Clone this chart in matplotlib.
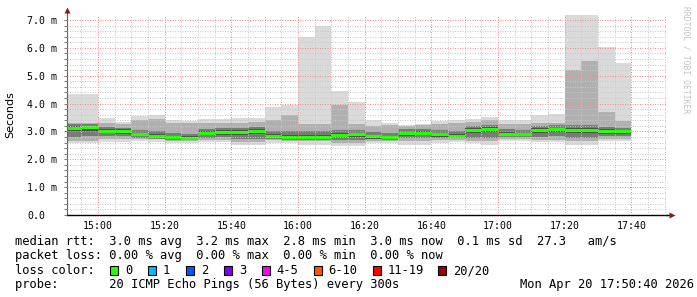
import numpy as np
import matplotlib
matplotlib.use("Agg")
import matplotlib.pyplot as plt
from matplotlib.patches import Rectangle

# ---------------- data (times in minutes after 14:00, rtt in ms) ----------------
t_start = 50 + 40 / 60          # 14:50:40
t_end = 230 + 40 / 60           # 17:50:40
bin_edges = [t_start] + list(range(55, 221, 5))

rtt_median = [3.12, 3.15, 3.03, 3.02, 2.90, 2.84, 2.79, 2.76, 2.95, 2.98, 2.99, 3.02,
              2.84, 2.81, 2.81, 2.81, 2.88, 2.89, 2.82, 2.79, 2.93, 2.95, 2.89, 2.85,
              3.06, 3.10, 2.92, 2.90, 3.05, 3.08, 3.06, 3.05, 3.02, 3.00]
rtt_max = [4.34, 4.34, 3.49, 3.35, 3.55, 3.59, 3.41, 3.37, 3.46, 3.46, 3.48, 3.48,
           3.89, 3.95, 6.40, 6.78, 4.45, 4.06, 3.41, 3.29, 3.22, 3.27, 3.38, 3.41,
           3.46, 3.51, 3.41, 3.41, 3.59, 3.63, 7.25, 7.25, 6.03, 5.46]
rtt_min = [2.57, 2.57, 2.62, 2.63, 2.66, 2.63, 2.57, 2.57, 2.61, 2.61, 2.50, 2.50,
           2.59, 2.57, 2.53, 2.53, 2.48, 2.48, 2.57, 2.58, 2.53, 2.53, 2.60, 2.62,
           2.57, 2.53, 2.64, 2.64, 2.61, 2.61, 2.53, 2.53, 2.64, 2.64]
smoke_hi2 = [3.30, 3.30, 3.32, 3.25, 3.40, 3.45, 3.30, 3.30, 3.30, 3.30, 3.30, 3.35,
             3.41, 3.59, 3.25, 3.25, 3.95, 3.25, 3.20, 3.22, 3.20, 3.22, 3.25, 3.30,
             3.35, 3.40, 3.25, 3.25, 3.30, 3.30, 5.20, 5.54, 3.71, 3.39]
smoke_lo2 = [2.67, 2.67, 2.72, 2.73, 2.74, 2.72, 2.67, 2.66, 2.70, 2.70, 2.62, 2.62,
             2.68, 2.66, 2.64, 2.64, 2.60, 2.60, 2.67, 2.67, 2.64, 2.64, 2.70, 2.71,
             2.67, 2.64, 2.73, 2.73, 2.70, 2.70, 2.64, 2.64, 2.73, 2.73]
smoke_hi3 = [3.26, 3.28, 3.16, 3.14, 3.05, 3.00, 2.95, 2.92, 3.08, 3.12, 3.12, 3.15,
             3.02, 3.00, 3.00, 3.00, 3.05, 3.05, 2.98, 2.95, 3.08, 3.10, 3.04, 3.02,
             3.20, 3.24, 3.08, 3.06, 3.20, 3.22, 3.22, 3.22, 3.16, 3.14]
smoke_lo3 = [2.80, 2.82, 2.82, 2.83, 2.77, 2.72, 2.70, 2.68, 2.78, 2.80, 2.72, 2.74,
             2.72, 2.70, 2.68, 2.68, 2.70, 2.70, 2.72, 2.70, 2.75, 2.76, 2.76, 2.76,
             2.78, 2.76, 2.80, 2.79, 2.80, 2.82, 2.78, 2.78, 2.83, 2.82]
smoke_hi4 = [3.18, 3.21, 3.09, 3.08, 2.96, 2.90, 2.85, 2.82, 3.01, 3.04, 3.05, 3.08,
             2.90, 2.87, 2.87, 2.87, 2.94, 2.95, 2.88, 2.85, 2.99, 3.01, 2.95, 2.91,
             3.12, 3.16, 2.98, 2.96, 3.11, 3.14, 3.12, 3.11, 3.08, 3.06]
smoke_lo4 = [3.00, 3.02, 2.93, 2.92, 2.82, 2.77, 2.73, 2.71, 2.86, 2.88, 2.88, 2.91,
             2.76, 2.74, 2.73, 2.73, 2.79, 2.80, 2.74, 2.72, 2.84, 2.86, 2.81, 2.78,
             2.95, 2.98, 2.84, 2.82, 2.95, 2.97, 2.95, 2.94, 2.92, 2.90]

x_ticks = [60, 80, 100, 120, 140, 160, 180, 200, 220]
x_tick_labels = ["15:00", "15:20", "15:40", "16:00", "16:20", "16:40", "17:00", "17:20", "17:40"]
y_ticks = [0, 1, 2, 3, 4, 5, 6, 7]
y_tick_labels = ["0.0", "1.0 m", "2.0 m", "3.0 m", "4.0 m", "5.0 m", "6.0 m", "7.0 m"]

legend_rtt = "median rtt:  3.0 ms avg  3.2 ms max  2.8 ms min  3.0 ms now  0.1 ms sd  27.3   am/s"
legend_loss = "packet loss: 0.00 % avg  0.00 % max  0.00 % min  0.00 % now"
loss_labels = ["0", "1", "2", "3", "4-5", "6-10", "11-19", "20/20"]
loss_colors = ["#26ff00", "#00b8ff", "#0059ff", "#7e00ff", "#ff00ff", "#ff5500", "#ff0000", "#a10000"]
probe_text = "probe:       20 ICMP Echo Pings (56 Bytes) every 300s"
date_text = "Mon Apr 20 17:50:40 2026"

# ---------------- figure ----------------
W, H = 697, 297
MONO = "DejaVu Sans Mono"
fig = plt.figure(figsize=(W / 100, H / 100), dpi=100)
fig.patch.set_facecolor("white")
ax = fig.add_axes([67 / W, (H - 215) / H, 600 / W, 200 / H])
ax.set_xlim(t_start, t_end)
ax.set_ylim(0, 7.18)

# smoke layers
ax.stairs(rtt_max, bin_edges, baseline=rtt_min, fill=True, color="#dadada", lw=0)
ax.stairs(smoke_hi2, bin_edges, baseline=smoke_lo2, fill=True, color="#b0b0b0", lw=0)
ax.stairs(smoke_hi3, bin_edges, baseline=smoke_lo3, fill=True, color="#7a7a7a", lw=0)
ax.stairs(smoke_hi4, bin_edges, baseline=smoke_lo4, fill=True, color="#474747", lw=0)
# median (loss 0 -> green)
ax.hlines(rtt_median, bin_edges[:-1], bin_edges[1:], colors=loss_colors[0], lw=2.3,
          capstyle="butt")

# grid
ax.set_xticks(x_ticks)
ax.set_xticks(np.arange(55, 231, 5), minor=True)
ax.set_yticks(y_ticks)
ax.set_yticks(np.arange(0, 7.1, 0.2), minor=True)
ax.set_axisbelow(False)
ax.grid(which="minor", color="#c8c8c8", lw=0.72, linestyle=(0, (1, 1.5)))
ax.grid(which="major", color="#f09090", lw=0.72, linestyle=(0, (1, 1.5)))

ax.set_xticklabels(x_tick_labels, fontfamily=MONO, fontsize=7.1)
ax.set_yticklabels(y_tick_labels, fontfamily=MONO, fontsize=7.1)
for lab in ax.get_yticklabels():
    lab.set_horizontalalignment("left")
ax.tick_params(axis="y", which="both", length=2, width=0.7, color="#777777",
               direction="out", pad=26.5)
ax.tick_params(axis="x", which="both", length=0, pad=4)

for s in ("top", "right"):
    ax.spines[s].set_visible(False)
ax.spines["left"].set_color("#606060")
ax.spines["left"].set_linewidth(0.8)
ax.spines["bottom"].set_color("#000000")
ax.spines["bottom"].set_linewidth(1.0)
# axis extensions and arrows
ax.plot([0, 0], [1, 1.02], transform=ax.transAxes, color="#606060", lw=0.8, clip_on=False)
ax.plot([1, 1.004], [0, 0], transform=ax.transAxes, color="#000000", lw=1.0, clip_on=False)
ax.plot([0], [1.025], transform=ax.transAxes, marker="^", ms=5, color="#8b1a1a",
        clip_on=False, mec="none")
ax.plot([1.008], [0], transform=ax.transAxes, marker=">", ms=5, color="#8b1a1a",
        clip_on=False, mec="none")

# y label and watermark
fig.text(10 / W, 1 - 115 / H, "Seconds", rotation=90, ha="center", va="center",
         fontsize=8, fontfamily="DejaVu Sans")
fig.text(686 / W, 1 - 60 / H, "RRDTOOL / TOBI OETIKER", rotation=270, ha="center",
         va="center", fontsize=5.8, fontfamily=MONO, color="#c4c4c4")

# legend
def ftext(x, y, s, **kw):
    fig.text(x / W, 1 - y / H, s, va="center", fontfamily=MONO, fontsize=8.7, **kw)

ftext(15, 241, legend_rtt)
ftext(15, 256, legend_loss)
ftext(15, 270.5, "loss color:")
box_x = [110, 148, 186, 224, 262, 314, 373, 438]
label_x = [125, 163, 201, 239, 276, 328, 388, 453]
for bx, lx, lab, col in zip(box_x, label_x, loss_labels, loss_colors):
    fig.add_artist(Rectangle((bx / W, 1 - 275 / H), 8 / W, 9 / H, transform=fig.transFigure,
                             facecolor=col, edgecolor="black", lw=0.8))
    ftext(lx, 270.5, lab)
ftext(15, 284.5, probe_text)
ftext(694, 284.5, date_text, ha="right")

fig.savefig("out.png", dpi=100)
